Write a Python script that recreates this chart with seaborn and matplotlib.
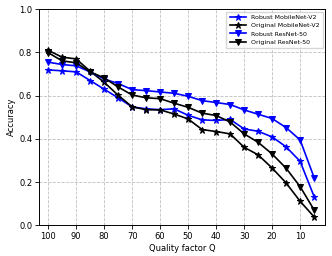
import seaborn as sns
import matplotlib.pyplot as plt
import pandas as pd

# Data
quality = [100, 95, 90, 85, 80, 75, 70, 65, 60, 55, 50, 45, 40, 35, 30, 25, 20, 15, 10, 5]
robust_mobilenet = [0.719, 0.715, 0.710, 0.670, 0.630, 0.590, 0.548, 0.539, 0.535, 0.539,
                    0.509, 0.488, 0.485, 0.490, 0.446, 0.435, 0.409, 0.363, 0.296, 0.133]
original_mobilenet = [0.810, 0.778, 0.770, 0.713, 0.662, 0.602, 0.548, 0.535, 0.534, 0.515,
                      0.492, 0.443, 0.434, 0.423, 0.361, 0.326, 0.265, 0.196, 0.111, 0.039]
robust_resnet = [0.755, 0.744, 0.738, 0.710, 0.677, 0.656, 0.628, 0.623, 0.617, 0.611,
                 0.597, 0.577, 0.568, 0.559, 0.534, 0.514, 0.494, 0.452, 0.395, 0.221]
original_resnet = [0.799, 0.761, 0.752, 0.710, 0.682, 0.640, 0.603, 0.590, 0.586, 0.565,
                   0.546, 0.519, 0.508, 0.478, 0.423, 0.384, 0.330, 0.264, 0.179, 0.071]

series = [
    ("Robust MobileNet-V2", robust_mobilenet, "blue", "*"),
    ("Original MobileNet-V2", original_mobilenet, "black", "*"),
    ("Robust ResNet-50", robust_resnet, "blue", "v"),
    ("Original ResNet-50", original_resnet, "black", "v"),
]

fig = plt.figure(figsize=(3.32, 2.56), dpi=100)
ax = fig.add_axes([0.118, 0.12, 0.861, 0.844])

for name, values, color, marker in series:
    df = pd.DataFrame({"Q": quality, "acc": values})
    sns.lineplot(data=df, x="Q", y="acc", color=color, marker=marker,
                 markersize=5, markeredgecolor=color, linewidth=1.2,
                 label=name, ax=ax)

ax.set_xlim(103.2, 1.1)
ax.set_ylim(0, 1.0)
ax.set_xticks([100, 90, 80, 70, 60, 50, 40, 30, 20, 10])
ax.set_yticks([0.0, 0.2, 0.4, 0.6, 0.8, 1.0])
ax.tick_params(labelsize=6, length=3, width=0.6, pad=2)
ax.set_xlabel("Quality factor Q", fontsize=6, labelpad=2)
ax.set_ylabel("Accuracy", fontsize=6, labelpad=2)
ax.grid(True, linestyle="--", color="#c0c0c0", linewidth=0.6)
for spine in ax.spines.values():
    spine.set_linewidth(0.7)

ax.legend(loc="upper right", fontsize=4.5, handlelength=2.6, borderpad=0.5,
          labelspacing=0.45, fancybox=False, framealpha=0.8,
          borderaxespad=0.4)

fig.savefig("out.png", dpi=100)
